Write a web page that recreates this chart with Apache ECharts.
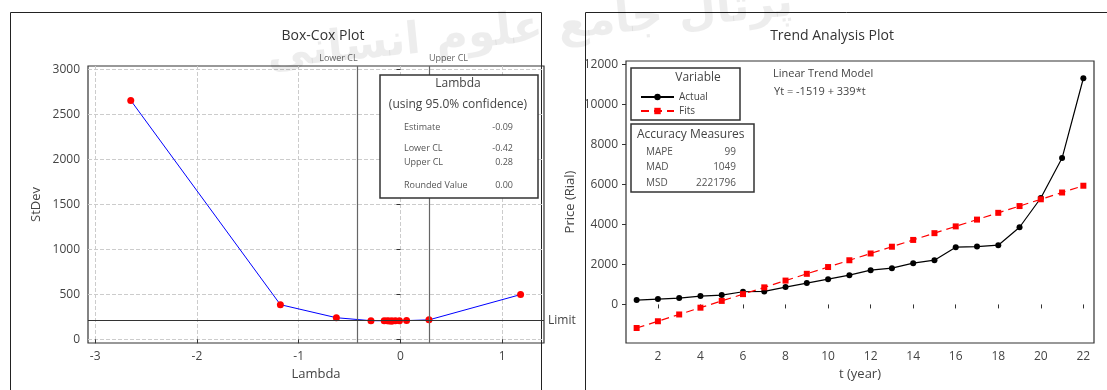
<!DOCTYPE html>
<html>
<head>
<meta charset="utf-8">
<script src="https://cdn.jsdelivr.net/npm/echarts@6/dist/echarts.min.js"></script>
<style>
html, body { margin: 0; padding: 0; background: #fff; }
#chart { width: 1107px; height: 390px; }
</style>
</head>
<body>
<div id="chart"></div>
<script>
// ---- Box-Cox (left) ----
const lambdaValues = [-2.65, -1.18, -0.63, -0.29, -0.16, -0.13, -0.11, -0.09, -0.08, -0.05, -0.01, 0.06, 0.28, 1.18];
const stdevValues  = [2655, 385, 240, 207, 206, 205, 204, 204, 204, 205, 206, 208, 216, 497];
const lambdaTicks = [-3, -2, -1, 0, 1];
const stdevTicks = [0, 500, 1000, 1500, 2000, 2500, 3000];
const lowerCL = -0.42;
const upperCL = 0.28;
const limitValue = 210;
const lambdaRows = [['Estimate', '-0.09'], ['Lower CL', '-0.42'], ['Upper CL', '0.28'], ['Rounded Value', '0.00']];

// ---- Trend analysis (right) ----
const years = [1, 2, 3, 4, 5, 6, 7, 8, 9, 10, 11, 12, 13, 14, 15, 16, 17, 18, 19, 20, 21, 22];
const actualPrice = [218, 268, 318, 418, 468, 634, 650, 866, 1066, 1266, 1465, 1715, 1815, 2064, 2214, 2863, 2896, 2963, 3862, 5326, 7324, 11318];
const fitsPrice = [-1180, -841, -502, -163, 176, 515, 854, 1193, 1532, 1871, 2210, 2549, 2888, 3227, 3566, 3905, 4244, 4583, 4922, 5261, 5600, 5939];
const yearTicks = [2, 4, 6, 8, 10, 12, 14, 16, 18, 20, 22];
const priceTicks = [0, 2000, 4000, 6000, 8000, 10000, 12000];
const accuracyRows = [['MAPE', '99'], ['MAD', '1049'], ['MSD', '2221796']];

const FONT = 'Open Sans';
const TXT = '#444';

const chart = echarts.init(document.getElementById('chart'));

function axisBase(ticks) {
    return {
        type: 'value',
        axisLine: { show: false },
        axisTick: { show: true, customValues: ticks, length: 4, lineStyle: { color: '#333' } },
        axisLabel: { customValues: ticks, formatter: v => String(v), color: TXT, fontSize: 12, fontFamily: FONT },
        nameLocation: 'middle',
        nameTextStyle: { color: TXT, fontSize: 13, fontFamily: FONT }
    };
}

// 左側 Lambda 表
const lambdaBox = [
    { type: 'rect', shape: { x: 380, y: 75, width: 158, height: 123 }, style: { fill: '#fff', stroke: '#333', lineWidth: 1.5 }, z: 10 },
    { type: 'text', x: 458, y: 84, style: { text: 'Lambda', fill: TXT, font: '12px "Open Sans"', align: 'center', verticalAlign: 'middle' }, z: 11 },
    { type: 'text', x: 458, y: 105, style: { text: '(using 95.0% confidence)', fill: TXT, font: '12px "Open Sans"', align: 'center', verticalAlign: 'middle' }, z: 11 }
];
const rowY = [127, 148, 162, 185];
lambdaRows.forEach((r, i) => {
    lambdaBox.push({ type: 'text', x: 404, y: rowY[i], style: { text: r[0], fill: '#555', font: '9px "Open Sans"', verticalAlign: 'middle' }, z: 11 });
    lambdaBox.push({ type: 'text', x: 513, y: rowY[i], style: { text: r[1], fill: '#555', font: '9px "Open Sans"', align: 'right', verticalAlign: 'middle' }, z: 11 });
});

// 右側 Accuracy 表
const accBox = [
    { type: 'rect', shape: { x: 631, y: 68, width: 109, height: 52 }, style: { fill: '#fff', stroke: '#333', lineWidth: 1.5 }, z: 10 },
    { type: 'text', x: 698, y: 78, style: { text: 'Variable', fill: TXT, font: '12px "Open Sans"', align: 'center', verticalAlign: 'middle' }, z: 11 },
    { type: 'rect', shape: { x: 631, y: 124, width: 123, height: 68 }, style: { fill: '#fff', stroke: '#333', lineWidth: 1.5 }, z: 10 },
    { type: 'text', x: 637, y: 135, style: { text: 'Accuracy Measures', fill: TXT, font: '12px "Open Sans"', verticalAlign: 'middle' }, z: 11 },
    { type: 'text', x: 773, y: 74, style: { text: 'Linear Trend Model', fill: TXT, font: '11px "Open Sans"', verticalAlign: 'middle' }, z: 11 },
    { type: 'text', x: 774, y: 92, style: { text: 'Yt = -1519 + 339*t', fill: TXT, font: '11px "Open Sans"', verticalAlign: 'middle' }, z: 11 }
];
const accY = [152, 167, 183];
accuracyRows.forEach((r, i) => {
    accBox.push({ type: 'text', x: 646, y: accY[i], style: { text: r[0], fill: '#555', font: '10px "Open Sans"', verticalAlign: 'middle' }, z: 11 });
    accBox.push({ type: 'text', x: 736, y: accY[i], style: { text: r[1], fill: '#555', font: '10px "Open Sans"', align: 'right', verticalAlign: 'middle' }, z: 11 });
});

chart.setOption({
    animation: false,
    backgroundColor: '#fff',
    title: [
        { text: 'Box-Cox Plot', left: 318, top: 24, textAlign: 'center', textStyle: { color: '#333', fontSize: 14, fontWeight: 'normal', fontFamily: FONT } },
        { text: 'Trend Analysis Plot', left: 827, top: 24, textAlign: 'center', textStyle: { color: '#333', fontSize: 14, fontWeight: 'normal', fontFamily: FONT } }
    ],
    legend: {
        data: ['Actual', 'Fits'],
        orient: 'vertical',
        left: 635, top: 87,
        itemWidth: 33, itemHeight: 8, itemGap: 4,
        textStyle: { color: TXT, fontSize: 10, fontFamily: FONT },
        z: 12
    },
    grid: [
        { left: 88, top: 66, width: 456, height: 277, show: true, borderColor: '#333', borderWidth: 1.2 },
        { left: 626, top: 61, width: 468, height: 282, show: true, borderColor: '#333', borderWidth: 1.2 }
    ],
    xAxis: [
        Object.assign(axisBase(lambdaTicks), {
            gridIndex: 0, min: -3.07, max: 1.41, name: 'Lambda', nameGap: 23,
            splitLine: { show: true, lineStyle: { type: 'dashed', color: '#ccc' } }
        }),
        Object.assign(axisBase(yearTicks), {
            gridIndex: 1, min: 0.5, max: 22.5, name: 't (year)', nameGap: 25,
            splitLine: { show: false }
        })
    ],
    yAxis: [
        Object.assign(axisBase(stdevTicks), {
            gridIndex: 0, min: -41, max: 3037, name: 'StDev', nameGap: 45,
            splitLine: { show: true, lineStyle: { type: 'dashed', color: '#ccc' } }
        }),
        Object.assign(axisBase(priceTicks), {
            gridIndex: 1, min: -1930, max: 12180, name: 'Price (Rial)', nameGap: 49,
            splitLine: { show: false }
        })
    ],
    series: [
        {
            name: 'StDev', type: 'line', xAxisIndex: 0, yAxisIndex: 0,
            data: lambdaValues.map((l, i) => [l, stdevValues[i]]),
            symbol: 'circle', symbolSize: 7,
            itemStyle: { color: '#ff0000' },
            lineStyle: { color: '#0000ff', width: 1 },
            markLine: {
                symbol: 'none', silent: true,
                data: [
                    { xAxis: lowerCL, lineStyle: { color: '#666', width: 1.2, type: 'solid' },
                      label: { formatter: 'Lower CL', position: 'end', align: 'right', distance: 3, color: '#666', fontSize: 9, fontFamily: FONT } },
                    { xAxis: upperCL, lineStyle: { color: '#666', width: 1.2, type: 'solid' },
                      label: { formatter: 'Upper CL', position: 'end', align: 'left', distance: 3, color: '#666', fontSize: 9, fontFamily: FONT } },
                    { yAxis: limitValue, lineStyle: { color: '#333', width: 1, type: 'solid' },
                      label: { formatter: 'Limit', position: 'end', distance: 4, color: TXT, fontSize: 12, fontFamily: FONT } }
                ]
            },
            z: 3
        },
        {
            name: 'Actual', type: 'line', xAxisIndex: 1, yAxisIndex: 1,
            data: years.map((t, i) => [t, actualPrice[i]]),
            symbol: 'circle', symbolSize: 6,
            itemStyle: { color: '#000' },
            lineStyle: { color: '#000', width: 1.2 }
        },
        {
            name: 'Fits', type: 'line', xAxisIndex: 1, yAxisIndex: 1,
            data: years.map((t, i) => [t, fitsPrice[i]]),
            symbol: 'rect', symbolSize: 6,
            itemStyle: { color: '#ff0000' },
            lineStyle: { color: '#ff0000', width: 1.2, type: [8, 5] }
        }
    ],
    graphic: [
        { type: 'polyline', shape: { points: [[10.5, 395], [10.5, 12.5], [541.5, 12.5], [541.5, 395]] }, style: { stroke: '#222', lineWidth: 1, fill: null } },
        { type: 'polyline', shape: { points: [[585.5, 395], [585.5, 12.5], [1110, 12.5]] }, style: { stroke: '#222', lineWidth: 1, fill: null } },
        { type: 'text', x: 530, y: 30, rotation: 0.1, style: { text: 'پرتال جامع علوم انسانی', fill: 'rgba(0,0,0,0.07)', font: 'bold 44px "DejaVu Sans"', align: 'center', verticalAlign: 'middle' }, z: 20 }
    ].concat(lambdaBox, accBox)
});
</script>
</body>
</html>
